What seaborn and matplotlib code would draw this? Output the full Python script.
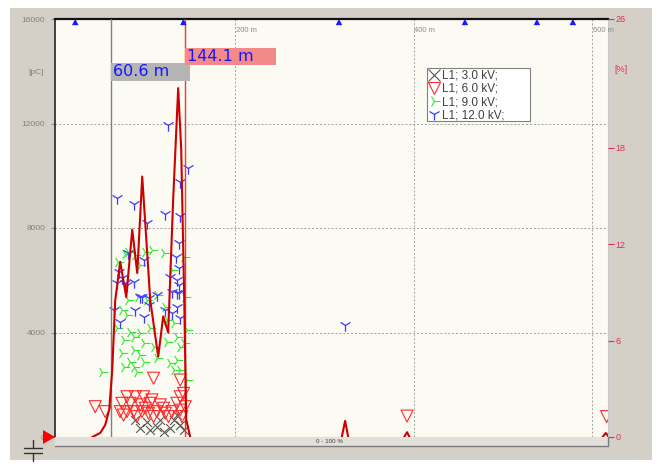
import numpy as np
import pandas as pd
import matplotlib
matplotlib.use("Agg")
import matplotlib.pyplot as plt
import matplotlib.transforms as mtransforms
from matplotlib.patches import Rectangle, Polygon
from matplotlib.lines import Line2D
import seaborn as sns

# ---------------- data ----------------
series_labels = ["L1; 3.0 kV;", "L1; 6.0 kV;", "L1; 9.0 kV;", "L1; 12.0 kV;"]

pos_3kv = [93.6, 112.3, 119.7, 127.2, 138.4, 142.1, 101.1, 116.0, 130.9, 104.8, 88.0, 135.0]
pc_3kv = [345, 395, 200, 345, 460, 270, 585, 650, 650, 270, 650, 840]

pos_6kv = [43.1, 54.3, 108.5, 138.4, 78.7, 88.0, 97.3, 106.7, 138.4, 142.1, 73.1, 82.4,
           93.6, 104.8, 116.0, 134.7, 71.1, 78.7, 86.1, 95.5, 102.9, 112.3, 121.6, 129.1,
           138.4, 144.0, 74.8, 89.9, 108.5, 125.3, 140.3, 99.2, 119.7, 392.7, 616.4]
pc_6kv = [1160, 970, 2250, 2180, 1540, 1540, 1540, 1420, 1540, 1670, 1290, 1290,
          1230, 1290, 1230, 1290, 970, 970, 970, 970, 910, 970, 910, 970,
          1030, 1160, 840, 780, 780, 780, 780, 1100, 1100, 800, 780]

pos_9kv = [80.4, 99.2, 106.7, 119.7, 88.0, 76.8, 142.1, 101.1, 112.3, 121.6, 144.0, 73.1,
           78.7, 67.5, 82.4, 93.6, 104.8, 74.8, 86.1, 97.3, 108.5, 123.5, 134.7, 142.1,
           138.4, 73.1, 86.1, 93.6, 82.4, 97.3, 112.3, 127.2, 134.7, 74.8, 86.1, 89.9,
           130.9, 138.4, 50.6, 145.9, 123.5, 130.9, 145.9, 68.9, 93.6, 129.4, 80.1, 91.3]
pc_9kv = [7090, 7090, 7160, 7060, 6970, 7010, 6900, 5240, 5440, 4990, 5370, 4860,
          4670, 4160, 4030, 3980, 4160, 3710, 3840, 3590, 3460, 3650, 3840, 3590,
          3460, 3200, 3330, 3140, 2880, 2880, 3010, 2820, 2950, 2690, 2690, 2500,
          2560, 2560, 2500, 2180, 4480, 4350, 4100, 6700, 6580, 6390, 5240, 5360]

pos_12kv = [67.5, 86.1, 124.6, 147.0, 137.6, 121.6, 137.6, 101.1, 136.5, 80.4, 97.3, 133.9,
            69.2, 73.1, 67.5, 86.1, 76.8, 127.2, 136.5, 134.7, 136.5, 129.1, 93.6, 102.9,
            134.7, 112.3, 63.6, 71.1, 78.7, 95.5, 102.9, 88.0, 97.3, 121.6, 129.1, 134.7,
            138.4, 136.5, 323.3]
pc_12kv = [9160, 8910, 11940, 10290, 9770, 8530, 8460, 8180, 7420, 7030, 6780, 6900,
           6330, 6090, 5900, 5950, 5900, 6140, 6460, 6010, 5820, 5560, 5370, 5310,
           5500, 5440, 4860, 4410, 5820, 5370, 5050, 4860, 4610, 4860, 4740, 4990,
           4540, 5500, 4290]

# PD density curve [%]
line_pos = [39.8, 48.7, 54.3, 58.8, 62.2, 65.5, 71.1, 77.9, 84.6, 90.2, 95.8, 104.8,
            113.7, 119.3, 124.9, 130.5, 136.1, 139.5, 142.9, 145.1, 149.6,
            319.5, 323.3, 326.7,
            389.5, 392.7, 395.5,
            612.0, 615.5, 619.0]
line_pct = [0, 0.25, 0.75, 1.7, 4.2, 8.5, 10.9, 8.7, 12.9, 10.2, 16.2, 8.5,
            5.0, 7.5, 6.5, 14.8, 21.7, 17.9, 8.5, 1.1, 0,
            0, 1.0, 0,
            0, 0.3, 0,
            0, 0.25, 0]
line_seg = [0] * 21 + [1] * 3 + [2] * 3 + [3] * 3

event_pos = [20.7, 141.9, 316.4, 457.6, 538.3, 578.6]
cursor_a = 60.6
cursor_b = 144.1

left_ticks = [0, 4000, 8000, 12000, 16000]
right_ticks = [0, 6, 12, 18, 26]
dist_ticks = [200, 400, 600]
dist_labels = ["200 m", "400 m", "600 m"]

# ---------------- style ----------------
sns.set_style("white")
plt.rcParams["font.family"] = ["Liberation Sans", "DejaVu Sans"]

PANEL = "#d4d0c8"
PLOTBG = "#fbfbf3"
GRID = "#a0a0a0"
C3 = "#555555"
C6 = "#ff2a2a"
C9 = "#2ee82e"
C12 = "#3a3aff"
CLINE = "#cc0000"
CRIGHT = "#e03050"

W, H = 660, 467
fig = plt.figure(figsize=(6.6, 4.67), dpi=100, facecolor="white")
fig.patches.append(Rectangle((10 / W, 1 - 460 / H), 642 / W, 452 / H,
                             transform=fig.transFigure, facecolor=PANEL,
                             edgecolor="none", zorder=-10))

ax_l, ax_r, ax_t, ax_b = 55, 608, 19, 437
ax = fig.add_axes([ax_l / W, 1 - ax_b / H, (ax_r - ax_l) / W, (ax_b - ax_t) / H])
ax.set_facecolor(PLOTBG)

# scatter series
common = dict(ax=ax, legend=False, zorder=3)
sns.scatterplot(x=pos_3kv, y=pc_3kv, marker="x", s=40, color=C3, linewidth=0.8, **common)
sns.scatterplot(x=pos_6kv, y=pc_6kv, marker="v", s=75, facecolors="none",
                edgecolor=C6, linewidth=0.8, **common)
sns.scatterplot(x=pos_9kv, y=pc_9kv, marker="4", s=70, color=C9, linewidth=0.8, **common)
sns.scatterplot(x=pos_12kv, y=pc_12kv, marker="1", s=80, color=C12, linewidth=0.9, **common)

ax.set_xlim(-2, 618)
ax.set_ylim(0, 16000)
ax.set_yticks(left_ticks)
ax.set_yticklabels([str(v) for v in left_ticks])
ax.set_xticks(dist_ticks)
ax.set_xticklabels([])
ax.tick_params(axis="x", length=0)
ax.tick_params(axis="y", length=3, width=0.8, color="#909090", labelcolor="#808080",
               labelsize=6, pad=4, direction="out", left=True)
ax.grid(True, axis="both", linestyle=(0, (2, 2)), color=GRID, linewidth=0.7)
ax.set_axisbelow(True)
ax.set_xlabel("")
ax.set_ylabel("")
for side, sp in ax.spines.items():
    sp.set_visible(True)
ax.spines["top"].set_color("#111111"); ax.spines["top"].set_linewidth(1.6)
ax.spines["left"].set_color("#222222"); ax.spines["left"].set_linewidth(1.2)
ax.spines["right"].set_color("#c8c8c8"); ax.spines["right"].set_linewidth(0.8)
ax.spines["bottom"].set_color("#c0c0c0"); ax.spines["bottom"].set_linewidth(0.8)

# distance labels inside the top of the plot
bt = mtransforms.blended_transform_factory(ax.transData, ax.transAxes)
for xv, lab in zip(dist_ticks, dist_labels):
    ax.text(xv + 1, 0.973, lab, transform=bt, fontsize=5.5, color="#8a8a8a",
            ha="left", va="center")

# event markers along the top
sns.scatterplot(x=event_pos, y=[0.993] * len(event_pos), marker="^", s=22,
                color="#1a1aff", edgecolor="none", transform=bt, ax=ax,
                legend=False, zorder=6, clip_on=False)

# cursors
ax.axvline(cursor_a, color="#808080", linewidth=1.0, zorder=4)
ax.axvline(cursor_b, color="#ff3030", linewidth=1.0, zorder=4)

ax.add_patch(Rectangle((cursor_a, (ax_b - 81) / (ax_b - ax_t)), 89.0,
                       18 / (ax_b - ax_t), transform=bt, facecolor="#b4b4b4",
                       edgecolor="none", zorder=5))
ax.text(cursor_a + 2.5, (ax_b - 72) / (ax_b - ax_t), f"{cursor_a:.1f} m", transform=bt,
        fontsize=11.5, color="#1515ff", family="DejaVu Sans", ha="left",
        va="center", zorder=6)
ax.add_patch(Rectangle((cursor_b, (ax_b - 65) / (ax_b - ax_t)), 102.0,
                       17 / (ax_b - ax_t), transform=bt, facecolor="#f28a8a",
                       edgecolor="none", zorder=5))
ax.text(cursor_b + 2.0, (ax_b - 56.5) / (ax_b - ax_t), f"{cursor_b:.1f} m", transform=bt,
        fontsize=11.5, color="#1515ff", family="DejaVu Sans", ha="left",
        va="center", zorder=6)

# right axis: PD density line
ax2 = ax.twinx()
line_df = pd.DataFrame({"pos": line_pos, "pct": line_pct, "seg": line_seg})
sns.lineplot(data=line_df, x="pos", y="pct", units="seg", estimator=None, sort=False,
             color=CLINE, linewidth=1.5, ax=ax2, legend=False)
ax2.set_ylim(0, 26)
ax2.set_xlim(-2, 618)
ax2.set_yticks(right_ticks)
ax2.set_yticklabels([str(v) for v in right_ticks])
ax2.tick_params(axis="y", length=4, width=0.8, color=CRIGHT, labelcolor=CRIGHT,
                labelsize=6.5, pad=1.5, right=True)
ax2.set_ylabel("")
ax2.set_xlabel("")
ax2.grid(False)
for sp in ax2.spines.values():
    sp.set_visible(False)

# legend (frame drawn separately to match the wide box)
pw, ph = (ax_r - ax_l), (ax_b - ax_t)
ax2.add_patch(Rectangle(((427 - ax_l) / pw, (ax_b - 121) / ph), 103 / pw, 53 / ph,
                        transform=ax2.transAxes, facecolor="white", edgecolor="#808080",
                        linewidth=0.8, zorder=9))
handles = [
    Line2D([], [], marker="x", linestyle="none", color=C3, markersize=8, mew=0.8),
    Line2D([], [], marker="v", linestyle="none", mfc="none", mec=C6, markersize=9, mew=0.8),
    Line2D([], [], marker="4", linestyle="none", color=C9, markersize=9, mew=0.8),
    Line2D([], [], marker="1", linestyle="none", color=C12, markersize=9, mew=0.9),
]
leg = ax2.legend(handles, series_labels, loc="upper left",
                 bbox_to_anchor=((427 - ax_l) / pw, (ax_b - 68) / ph),
                 borderaxespad=0, borderpad=0.15, handlelength=0.9, handletextpad=0.2,
                 labelspacing=0.1, frameon=False,
                 prop={"family": "Liberation Sans", "size": 8.5})
for t in leg.get_texts():
    t.set_color("#404040")
leg.set_zorder(10)

# unit labels
fig.text(36 / W, 1 - 72 / H, "[pC]", fontsize=6, color="#808080", ha="center", va="center")
fig.text(621 / W, 1 - 70 / H, "[%]", fontsize=6.5, color=CRIGHT, ha="center", va="center")

# bottom scale bar
fig.patches.append(Rectangle((ax_l / W, 1 - 446 / H), (ax_r - ax_l) / W, 9 / H,
                             transform=fig.transFigure, facecolor="#e2e0da",
                             edgecolor="none", zorder=1))
fig.lines.append(Line2D([ax_l / W, ax_r / W], [1 - 446 / H, 1 - 446 / H],
                        transform=fig.transFigure, color="#7a7a7a", linewidth=1.0))
fig.lines.append(Line2D([ax_r / W, ax_r / W], [1 - 446 / H, 1 - 437 / H],
                        transform=fig.transFigure, color="#7a7a7a", linewidth=1.0))
fig.text(330 / W, 1 - 441.5 / H, "0 - 100 %", fontsize=4.5, color="#404040",
         ha="center", va="center")

# red start marker and capacitor symbol
fig.patches.append(Polygon([[43 / W, 1 - 430 / H], [43 / W, 1 - 444 / H], [55 / W, 1 - 437 / H]],
                           closed=True, transform=fig.transFigure, facecolor="#ff0000",
                           edgecolor="none", zorder=5))
for yy in (448, 453):
    fig.lines.append(Line2D([24 / W, 42 / W], [1 - yy / H, 1 - yy / H],
                            transform=fig.transFigure, color="#333333", linewidth=1.0))
fig.lines.append(Line2D([33 / W, 33 / W], [1 - 440 / H, 1 - 448 / H],
                        transform=fig.transFigure, color="#333333", linewidth=1.0))
fig.lines.append(Line2D([33 / W, 33 / W], [1 - 453 / H, 1 - 461 / H],
                        transform=fig.transFigure, color="#333333", linewidth=1.0))

fig.savefig("out.png", dpi=100, facecolor=fig.get_facecolor())
